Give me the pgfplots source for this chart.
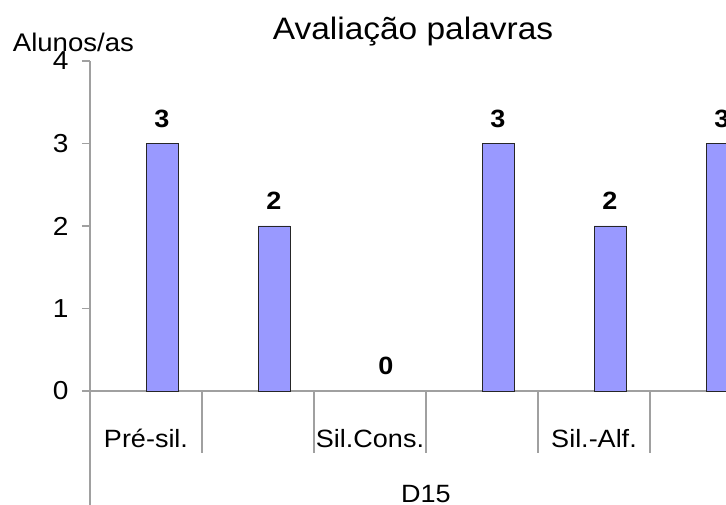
\documentclass[border=0pt]{standalone}
\usepackage{fontspec}
\setmainfont{Liberation Sans}
\usepackage{graphicx}
\usepackage{pgfplots}
\pgfplotsset{compat=1.18}
\definecolor{barfill}{HTML}{9999FF}
\definecolor{axgray}{HTML}{A0A0A0}
\newcommand{\wide}[1]{\scalebox{1.08}[1]{#1}}
\begin{document}
\begin{tikzpicture}
\begin{axis}[
  x=112pt, y=82.5pt,
  xmin=-0.5, xmax=5.1786,
  ymin=0, ymax=4,
  axis lines=left,
  axis line style={draw=axgray, line width=1.2pt, -},
  clip=false,
  ytick={0,1,2,3,4},
  yticklabels={\wide{0},\wide{1},\wide{2},\wide{3},\wide{4}},
  yticklabel style={font=\fontsize{26}{30}\selectfont, anchor=east, xshift=-10pt},
  ytick style={draw=axgray, line width=1.2pt},
  tick align=outside,
  major tick length=8pt,
  xtick={0,...,5},
  xticklabels={\wide{Pré-sil.},,\wide{Sil.Cons.},,\wide{Sil.-Alf.},},
  xtick style={draw=none},
  xticklabel style={font=\fontsize{25}{30}\selectfont, anchor=base, yshift=-49pt},
  ybar,
  bar width=32pt,
  bar shift=16pt,
  nodes near coords={\wide{\pgfmathprintnumber[assume math mode=true]{\pgfplotspointmeta}}},
  every node near coord/.append style={font=\bfseries\fontsize{25}{30}\selectfont, anchor=base, yshift=16pt},
]
\addplot[fill=barfill, draw=black!85, line width=0.9pt] coordinates {(0,3) (1,2) (3,3) (4,2) (5,3)};
\addplot[draw=none, fill=none] coordinates {(2,0)};
\draw[axgray, line width=1.2pt] (axis cs:-0.5,0) -- (axis cs:-0.5,-1.3818);
\pgfplotsinvokeforeach{0.5,1.5,2.5,3.5,4.5}{\draw[axgray, line width=1.2pt] (axis cs:#1,0) -- (axis cs:#1,-0.75);}
\node[font=\fontsize{31}{36}\selectfont, anchor=base, inner sep=0pt] at (axis cs:2.384,4.263) {\wide{Avaliação palavras}};
\node[anchor=base west, inner sep=0pt, font=\fontsize{25.5}{30}\selectfont] at (axis cs:-1.19,4.113) {\wide{Alunos/as}};
\node[anchor=base, inner sep=0pt, font=\fontsize{25}{30}\selectfont] at (axis cs:2.5,-1.355) {\wide{D15}};
\coordinate (tl) at (axis cs:-1.3036,4.7394);
\coordinate (br) at (axis cs:5.1786,-1.3818);
\end{axis}
\pgfresetboundingbox
\path[use as bounding box] (tl) rectangle (br);
\end{tikzpicture}
\end{document}
